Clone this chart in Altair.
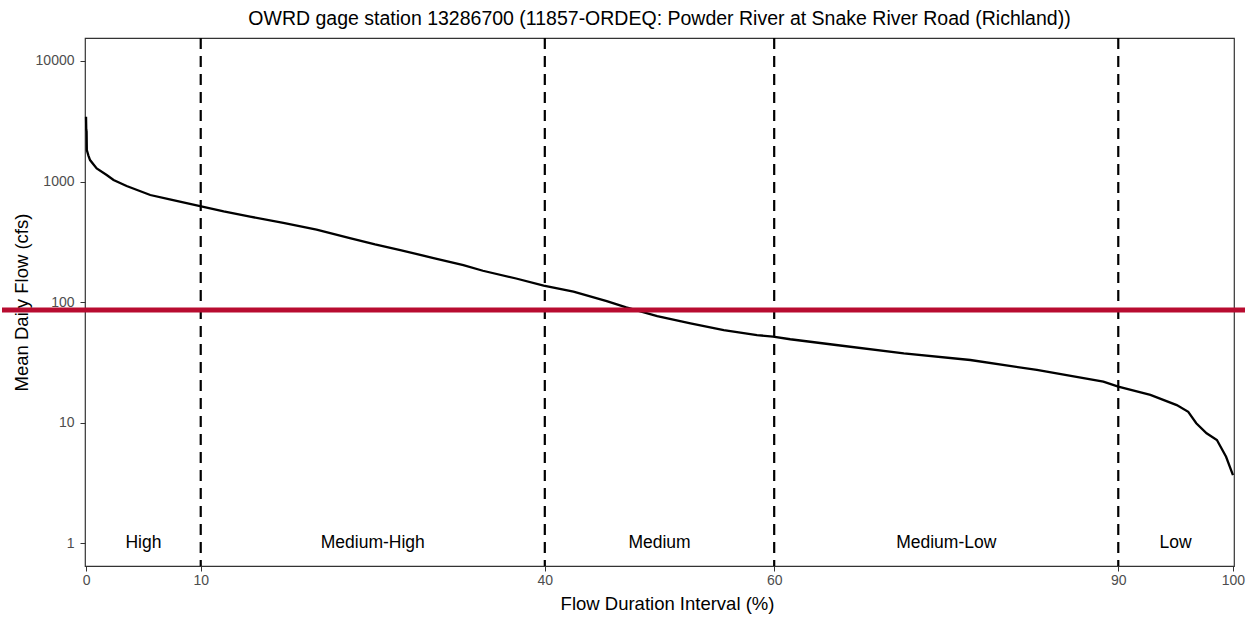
import altair as alt
import pandas as pd

# Flow duration curve
pct = [0, 0.02, 0.05, 0.07, 0.2, 0.35, 0.93, 1.8, 2.4, 3.54, 5.6, 7.3, 9.94, 12.0,
       14.3, 17.2, 20.1, 23.0, 25.2, 27.4, 30.3, 32.9, 34.6, 37.5, 39.9, 42.5,
       45.4, 47.1, 49.8, 52.7, 55.6, 58.5, 59.9, 61.4, 65.4, 71.3, 77.1, 82.9,
       88.7, 90.0, 92.8, 95.1, 96.1, 96.8, 97.7, 98.6, 99.4, 100]
flow = [3440, 2700, 2600, 1820, 1650, 1507, 1286, 1132, 1029, 918, 773, 711, 626, 565,
        511, 455, 400, 340, 301, 270, 232, 203, 182, 157, 137, 122,
        102, 90.5, 76.5, 66.7, 58.7, 53.3, 51.7, 49.2, 44.1, 37.6, 33.1, 27.4,
        21.9, 19.9, 17.0, 14.0, 12.3, 9.89, 8.17, 7.19, 5.22, 3.68]

breaks = [10, 40, 60, 90]
regions = ["High", "Medium-High", "Medium", "Medium-Low", "Low"]
region_x = [5, 25, 50, 75, 95]
region_y = [1, 1, 1, 1, 1]
target_flow = [86]

x_ticks = [0, 10, 40, 60, 90, 100]
y_ticks = [1, 10, 100, 1000, 10000]

FONT = "Liberation Sans"
W, H = 1149, 528

curve_df = pd.DataFrame({"pct": pct, "flow": flow})
breaks_df = pd.DataFrame({"pct": breaks})
labels_df = pd.DataFrame({"pct": region_x, "flow": region_y, "label": regions})
target_df = pd.DataFrame({"flow": target_flow})

xscale = alt.Scale(domain=[-0.09, 100.09], nice=False, zero=False)
yscale = alt.Scale(type="log", domain=[0.648, 15500], nice=False)

xaxis = alt.Axis(values=x_ticks, title="Flow Duration Interval (%)", grid=False,
                 labelColor="#4D4D4D", labelFontSize=14, labelFont=FONT,
                 titleFont=FONT, titleFontSize=18.5, titleFontWeight="normal",
                 titleColor="#000000", tickColor="#333333", tickSize=5,
                 domain=False, labelPadding=2, titleX=582, titleY=37,
                 titleBaseline="middle")
yaxis = alt.Axis(values=y_ticks, title="Mean Daily Flow (cfs)", grid=False,
                 labelColor="#4D4D4D", labelFontSize=14, labelFont=FONT,
                 titleFont=FONT, titleFontSize=18.5, titleFontWeight="normal",
                 titleColor="#000000", tickColor="#333333", tickSize=5,
                 domain=False, labelPadding=6, titleX=-64, titleY=H / 2,
                 titleAngle=-90, titleBaseline="middle", format="d")

curve = alt.Chart(curve_df).mark_line(color="black", strokeWidth=2.3).encode(
    x=alt.X("pct:Q", scale=xscale, axis=xaxis),
    y=alt.Y("flow:Q", scale=yscale, axis=yaxis),
)

vlines = alt.Chart(breaks_df).mark_rule(color="black", strokeWidth=2.2,
                                        strokeDash=[11, 7]).encode(
    x=alt.X("pct:Q", scale=xscale),
)

texts = alt.Chart(labels_df).mark_text(font=FONT, fontSize=17.5, color="black",
                                       baseline="middle").encode(
    x=alt.X("pct:Q", scale=xscale),
    y=alt.Y("flow:Q", scale=yscale),
    text="label:N",
)

target = alt.Chart(target_df).mark_rule(color="#B80C30", strokeWidth=5).encode(
    y=alt.Y("flow:Q", scale=yscale),
    x=alt.value(-83),
    x2=alt.value(W + 11),
)

chart = alt.layer(curve, vlines, texts, target).properties(
    width=W,
    height=H,
    title=alt.TitleParams(
        "OWRD gage station 13286700 (11857-ORDEQ: Powder River at Snake River Road (Richland))",
        font=FONT, fontSize=19.5, fontWeight="normal", color="#000000",
        anchor="middle", offset=7,
    ),
    autosize=alt.AutoSizeParams(type="none"),
    padding={"left": 85, "top": 38, "right": 15, "bottom": 57},
).configure(
    background="white",
    view=alt.ViewConfig(stroke="#333333", strokeWidth=1.2),
)

chart.save("out.html", embed_options={"renderer": "svg", "actions": False})
